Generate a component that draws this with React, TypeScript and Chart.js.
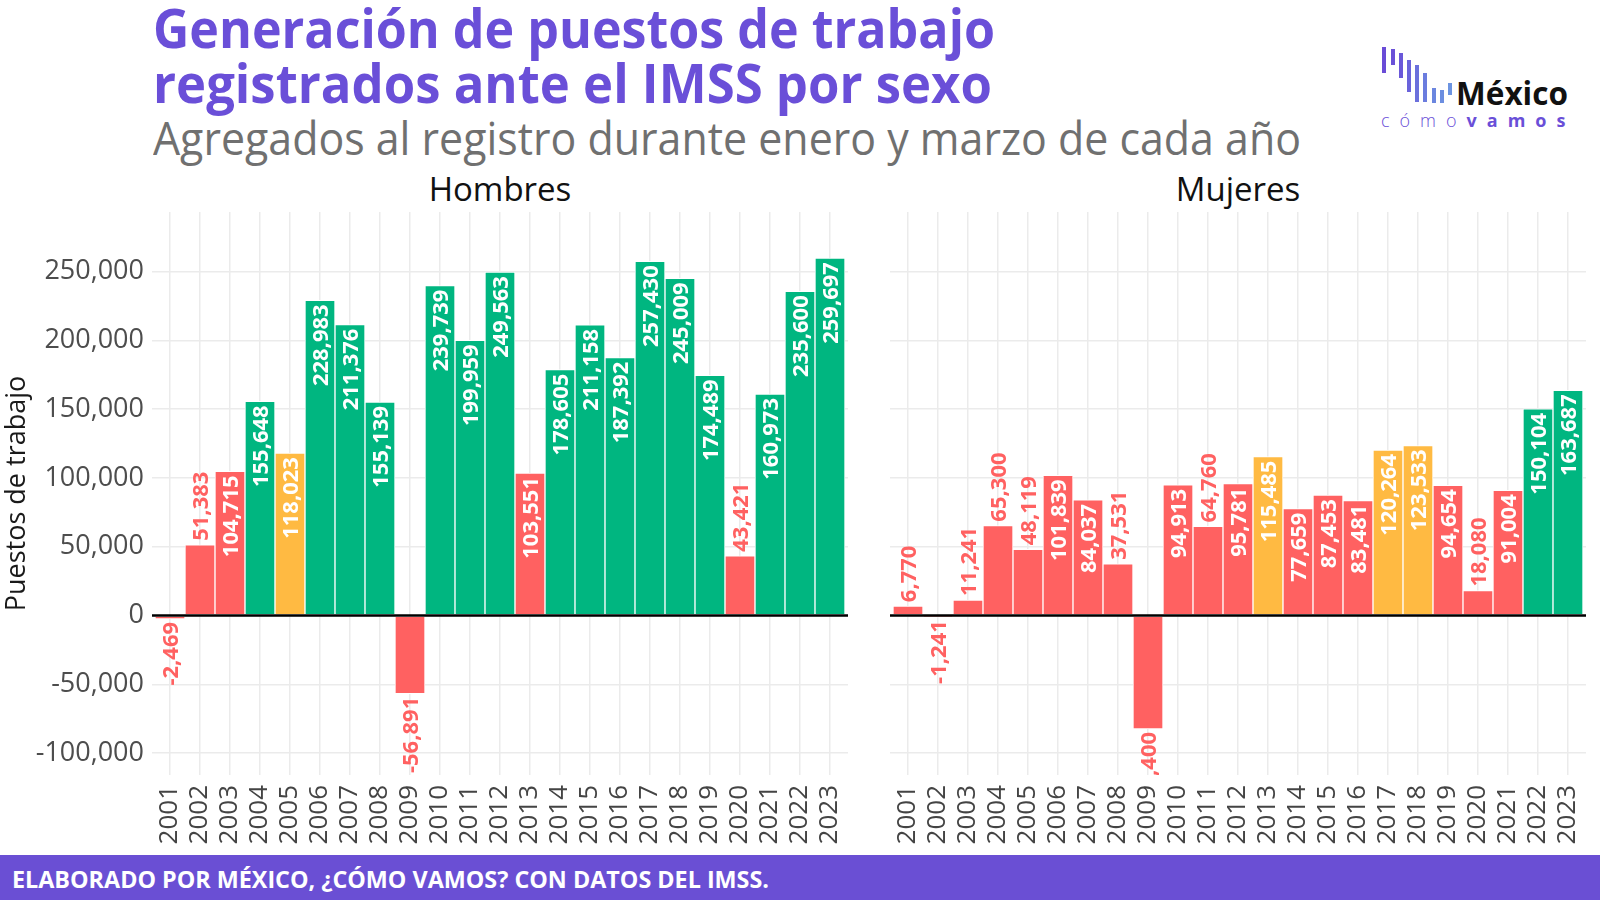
import React, { useEffect, useLayoutEffect, useRef } from 'react';
import { Chart, registerables } from 'chart.js';

Chart.register(...registerables);

// ---------- data ----------
const years = [2001, 2002, 2003, 2004, 2005, 2006, 2007, 2008, 2009, 2010, 2011, 2012, 2013, 2014, 2015, 2016, 2017, 2018, 2019, 2020, 2021, 2022, 2023];
const hombres = [-2469, 51383, 104715, 155648, 118023, 228983, 211376, 155139, -56891, 239739, 199959, 249563, 103551, 178605, 211158, 187392, 257430, 245009, 174489, 43421, 160973, 235600, 259697];
const mujeres = [6770, -1241, 11241, 65300, 48119, 101839, 84037, 37531, -82400, 94913, 64760, 95781, 115485, 77659, 87453, 83481, 120264, 123533, 94654, 18080, 91004, 150104, 163687];
const yTickValues = [-100000, -50000, 0, 50000, 100000, 150000, 200000, 250000];
const panelTitles = ['Hombres', 'Mujeres'];

const Y_MIN = -115900;
const Y_MAX = 293200;
const X_MIN = 2000.4;
const X_MAX = 2023.6;

const GREEN = '#00B680';
const RED = '#FF6161';
const YELLOW = '#FFBA42';
const PURPLE = '#6A4FD8';
const FONT = '"Open Sans", sans-serif';
const INSIDE_MIN = 70000;

const colorFor = (v: number) => (v >= 150000 ? GREEN : v >= 110000 ? YELLOW : RED);
const fmt = (v: number) => Number(v).toLocaleString('en-US');

const labelPlugin = {
  id: 'barLabels',
  afterDatasetsDraw(chart: any) {
    const { ctx, chartArea } = chart;
    const meta = chart.getDatasetMeta(0);
    const data = chart.data.datasets[0].data;
    ctx.save();
    ctx.beginPath();
    ctx.rect(chartArea.left, chartArea.top, chartArea.right - chartArea.left, chartArea.bottom - chartArea.top);
    ctx.clip();
    // zero line
    const y0 = chart.scales.y.getPixelForValue(0);
    ctx.strokeStyle = '#000';
    ctx.lineWidth = 2.5;
    ctx.beginPath();
    ctx.moveTo(chartArea.left, y0);
    ctx.lineTo(chartArea.right, y0);
    ctx.stroke();

    const fs = 22;
    ctx.font = `bold ${fs}px ${FONT}`;
    ctx.textBaseline = 'alphabetic';
    const capHalf = fs * 0.714 / 2;
    meta.data.forEach((el: any, i: number) => {
      const v = data[i].y;
      const txt = fmt(v);
      ctx.save();
      let ay: number;
      if (v >= INSIDE_MIN) {
        ay = el.y + 4;
        ctx.textAlign = 'right';
        ctx.fillStyle = '#ffffff';
      } else if (v >= 0) {
        ay = el.y - 4;
        ctx.textAlign = 'left';
        ctx.fillStyle = colorFor(v);
      } else {
        ay = el.y + 3;
        ctx.textAlign = 'right';
        ctx.fillStyle = colorFor(v);
      }
      ctx.translate(el.x, ay);
      ctx.rotate(-Math.PI / 2);
      ctx.fillText(txt, 0, capHalf);
      ctx.restore();
    });
    ctx.restore();
  },
};

const zeroPad = (s: any) => {
  s.paddingTop = 0;
  s.paddingBottom = 0;
  s.paddingLeft = 0;
  s.paddingRight = 0;
};

function makeConfig(values: number[], showY: boolean): any {
  const grid = { color: '#ebebeb', lineWidth: 1.5, drawTicks: false, offset: false };
  return {
    type: 'bar',
    data: {
      datasets: [
        {
          data: years.map((y, i) => ({ x: y, y: values[i] })),
          backgroundColor: values.map(colorFor),
          borderColor: '#ffffff',
          borderWidth: 1,
          borderSkipped: false,
          barPercentage: 1,
          categoryPercentage: 1,
        },
      ],
    },
    options: {
      responsive: false,
      animation: false,
      layout: { padding: { top: 12, right: showY ? 12 : 14, bottom: 0, left: 0 } },
      plugins: { legend: { display: false }, tooltip: { enabled: false } },
      scales: {
        x: {
          type: 'linear',
          min: X_MIN,
          max: X_MAX,
          offset: false,
          afterBuildTicks: (s: any) => {
            s.ticks = years.map((v) => ({ value: v }));
          },
          afterFit: (s: any) => {
            s.height = 75;
            zeroPad(s);
          },
          grid,
          border: { display: false },
          ticks: {
            autoSkip: false,
            minRotation: 90,
            maxRotation: 90,
            padding: 10,
            color: '#444444',
            font: { family: FONT, size: 26 },
            callback: (v: any) => String(v),
          },
        },
        y: {
          type: 'linear',
          min: Y_MIN,
          max: Y_MAX,
          afterBuildTicks: (s: any) => {
            s.ticks = yTickValues.map((v) => ({ value: v }));
          },
          afterFit: (s: any) => {
            s.width = showY ? 152 : 10;
            zeroPad(s);
          },
          grid,
          border: { display: false },
          ticks: {
            display: showY,
            padding: 8,
            color: '#4d4d4d',
            font: { family: FONT, size: 27 },
            callback: (v: any) => fmt(v),
          },
          title: {
            display: showY,
            text: 'Puestos de trabajo',
            color: '#1a1a1a',
            font: { family: FONT, size: 27 },
            padding: { top: 1, bottom: 0 },
          },
        },
      },
    },
    plugins: [labelPlugin],
  };
}

function Panel({ values, showY, left, width }: { values: number[]; showY: boolean; left: number; width: number }) {
  const ref = useRef<HTMLCanvasElement>(null);
  useEffect(() => {
    if (!ref.current) return;
    const chart = new Chart(ref.current, makeConfig(values, showY));
    return () => chart.destroy();
  }, []);
  return (
    <canvas
      ref={ref}
      width={width}
      height={650}
      style={{ position: 'absolute', left, top: 200, width, height: 650 }}
    />
  );
}

function FitText({ text, left, top, width, style }: { text: string; left: number; top: number; width: number; style: any }) {
  const ref = useRef<HTMLSpanElement>(null);
  useLayoutEffect(() => {
    const el = ref.current;
    if (!el) return;
    el.style.transform = 'none';
    const w = el.getBoundingClientRect().width;
    if (w > 0) el.style.transform = `scaleX(${width / w})`;
  }, [text, width]);
  return (
    <span
      ref={ref}
      style={{
        position: 'absolute',
        left,
        top,
        whiteSpace: 'nowrap',
        transformOrigin: 'left top',
        lineHeight: 1,
        fontFamily: FONT,
        ...style,
      }}
    >
      {text}
    </span>
  );
}

const logoBars = [
  { x: 1382, y0: 47, y1: 73, c: '#6A4CD7' },
  { x: 1391, y0: 49, y1: 65, c: '#6A51D8' },
  { x: 1399, y0: 53, y1: 78, c: '#6A58D9' },
  { x: 1407, y0: 60, y1: 92, c: '#6A63DB' },
  { x: 1415, y0: 65, y1: 102, c: '#6B70DC' },
  { x: 1423, y0: 73, y1: 102, c: '#6B7CDE' },
  { x: 1432, y0: 88, y1: 103, c: '#6B86DF' },
  { x: 1440, y0: 90, y1: 103, c: '#6C8EE0' },
  { x: 1448, y0: 83, y1: 95, c: '#6C94E1' },
];

export default function App() {
  return (
    <div
      style={{
        position: 'fixed',
        left: 0,
        top: 0,
        width: 1600,
        height: 900,
        background: '#ffffff',
        overflow: 'hidden',
        fontFamily: FONT,
      }}
    >
      <FitText
        text="Generación de puestos de trabajo"
        left={153}
        top={1}
        width={842}
        style={{ fontSize: 53, fontWeight: 700, color: PURPLE }}
      />
      <FitText
        text="registrados ante el IMSS por sexo"
        left={153}
        top={56}
        width={839}
        style={{ fontSize: 53, fontWeight: 700, color: PURPLE }}
      />
      <FitText
        text="Agregados al registro durante enero y marzo de cada año"
        left={153}
        top={115}
        width={1148}
        style={{ fontSize: 45, fontWeight: 400, color: '#707070' }}
      />

      {/* logo */}
      {logoBars.map((b, i) => (
        <div
          key={i}
          style={{ position: 'absolute', left: b.x, top: b.y0, width: 4, height: b.y1 - b.y0, background: b.c }}
        />
      ))}
      <FitText text="México" left={1456} top={77} width={112} style={{ fontSize: 32, fontWeight: 700, color: '#111111' }} />
      <span
        style={{
          position: 'absolute',
          left: 1381,
          top: 111,
          fontFamily: FONT,
          fontSize: 18,
          lineHeight: 1,
          letterSpacing: 10,
          color: PURPLE,
          whiteSpace: 'nowrap',
        }}
      >
        <span style={{ fontWeight: 300 }}>cómo</span>
        <span style={{ fontWeight: 700 }}>vamos</span>
      </span>

      {/* panel titles */}
      <div style={{ position: 'absolute', left: 400, top: 172, width: 200, textAlign: 'center', fontSize: 33, lineHeight: 1, color: '#111111' }}>
        {panelTitles[0]}
      </div>
      <div style={{ position: 'absolute', left: 1138, top: 172, width: 200, textAlign: 'center', fontSize: 33, lineHeight: 1, color: '#111111' }}>
        {panelTitles[1]}
      </div>

      <Panel values={hombres} showY={true} left={0} width={860} />
      <Panel values={mujeres} showY={false} left={880} width={720} />

      {/* footer */}
      <div style={{ position: 'absolute', left: 0, top: 855, width: 1600, height: 45, background: '#6A4FD4' }} />
      <FitText
        text="ELABORADO POR MÉXICO, ¿CÓMO VAMOS? CON DATOS DEL IMSS."
        left={12}
        top={868}
        width={757}
        style={{ fontSize: 23, fontWeight: 700, color: '#ffffff' }}
      />
    </div>
  );
}
